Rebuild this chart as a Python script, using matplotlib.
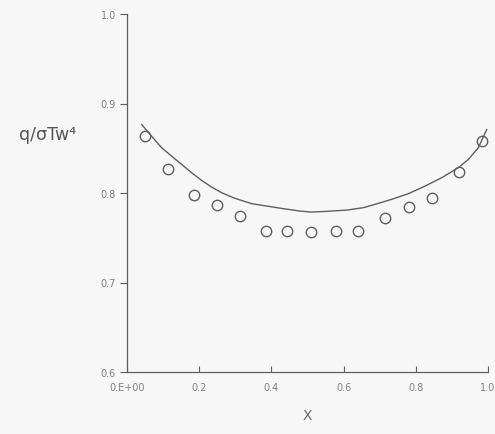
import matplotlib
matplotlib.use("Agg")
import matplotlib.pyplot as plt

# measured points (circles)
x_meas = [0.050, 0.114, 0.186, 0.250, 0.313, 0.384, 0.444, 0.510, 0.579, 0.641,
          0.715, 0.780, 0.846, 0.919, 0.983]
y_meas = [0.864, 0.827, 0.798, 0.787, 0.774, 0.758, 0.757, 0.756, 0.757, 0.757,
          0.772, 0.784, 0.794, 0.823, 0.858]

# theory curve
x_curve = [0.0407, 0.0684, 0.0961, 0.1238, 0.1515, 0.1792, 0.2069, 0.2346, 0.2623,
           0.2992, 0.3454, 0.3870, 0.4330, 0.4792, 0.5116, 0.5532, 0.6086, 0.6546,
           0.6870, 0.7332, 0.7792, 0.8255, 0.8717, 0.9177, 0.9454, 0.9731, 0.9964]
y_curve = [0.8765, 0.8634, 0.8505, 0.8411, 0.8319, 0.8226, 0.8140, 0.8066, 0.8003,
           0.7940, 0.7881, 0.7854, 0.7825, 0.7798, 0.7787, 0.7795, 0.7809, 0.7836,
           0.7873, 0.7929, 0.7992, 0.8077, 0.8171, 0.8282, 0.8375, 0.8505, 0.8709]

x_ticks = [0.0, 0.2, 0.4, 0.6, 0.8, 1.0]
x_ticklabels = ["0.E+00", "0.2", "0.4", "0.6", "0.8", "1.0"]
y_ticks = [0.6, 0.7, 0.8, 0.9, 1.0]
y_ticklabels = ["0.6", "0.7", "0.8", "0.9", "1.0"]

ink = "#5e5e5e"
bg = "#f7f7f7"

fig = plt.figure(figsize=(4.95, 4.35), dpi=100, facecolor=bg)
ax = fig.add_axes([127/495, 62/435, 361/495, 358/435], facecolor=bg)

ax.plot(x_curve, y_curve, color=ink, lw=1.0)
ax.plot(x_meas, y_meas, linestyle="none", marker="o", markersize=7.5,
        markerfacecolor="none", markeredgecolor=ink, markeredgewidth=1.0)

ax.set_xlim(0, 1.0)
ax.set_ylim(0.6, 1.0)
ax.set_xticks(x_ticks)
ax.set_xticklabels(x_ticklabels)
ax.set_yticks(y_ticks)
ax.set_yticklabels(y_ticklabels)

for s in ["top", "right"]:
    ax.spines[s].set_visible(False)
for s in ["left", "bottom"]:
    ax.spines[s].set_color(ink)
    ax.spines[s].set_linewidth(0.9)

ax.tick_params(axis="x", direction="in", length=4, width=0.8, colors=ink,
               labelsize=7, pad=7, labelcolor="#808080")
ax.tick_params(axis="y", direction="out", length=5, width=0.8, colors=ink,
               labelsize=7, pad=3, labelcolor="#808080")

ax.set_xlabel("X", color="#6a6a6a", fontsize=10, labelpad=12)
fig.text(48/495, 1 - 135/435, "q/\u03c3Tw\u2074", color="#555555", fontsize=12.5,
         ha="center", va="center")

fig.savefig("out.png", dpi=100, facecolor=bg)
